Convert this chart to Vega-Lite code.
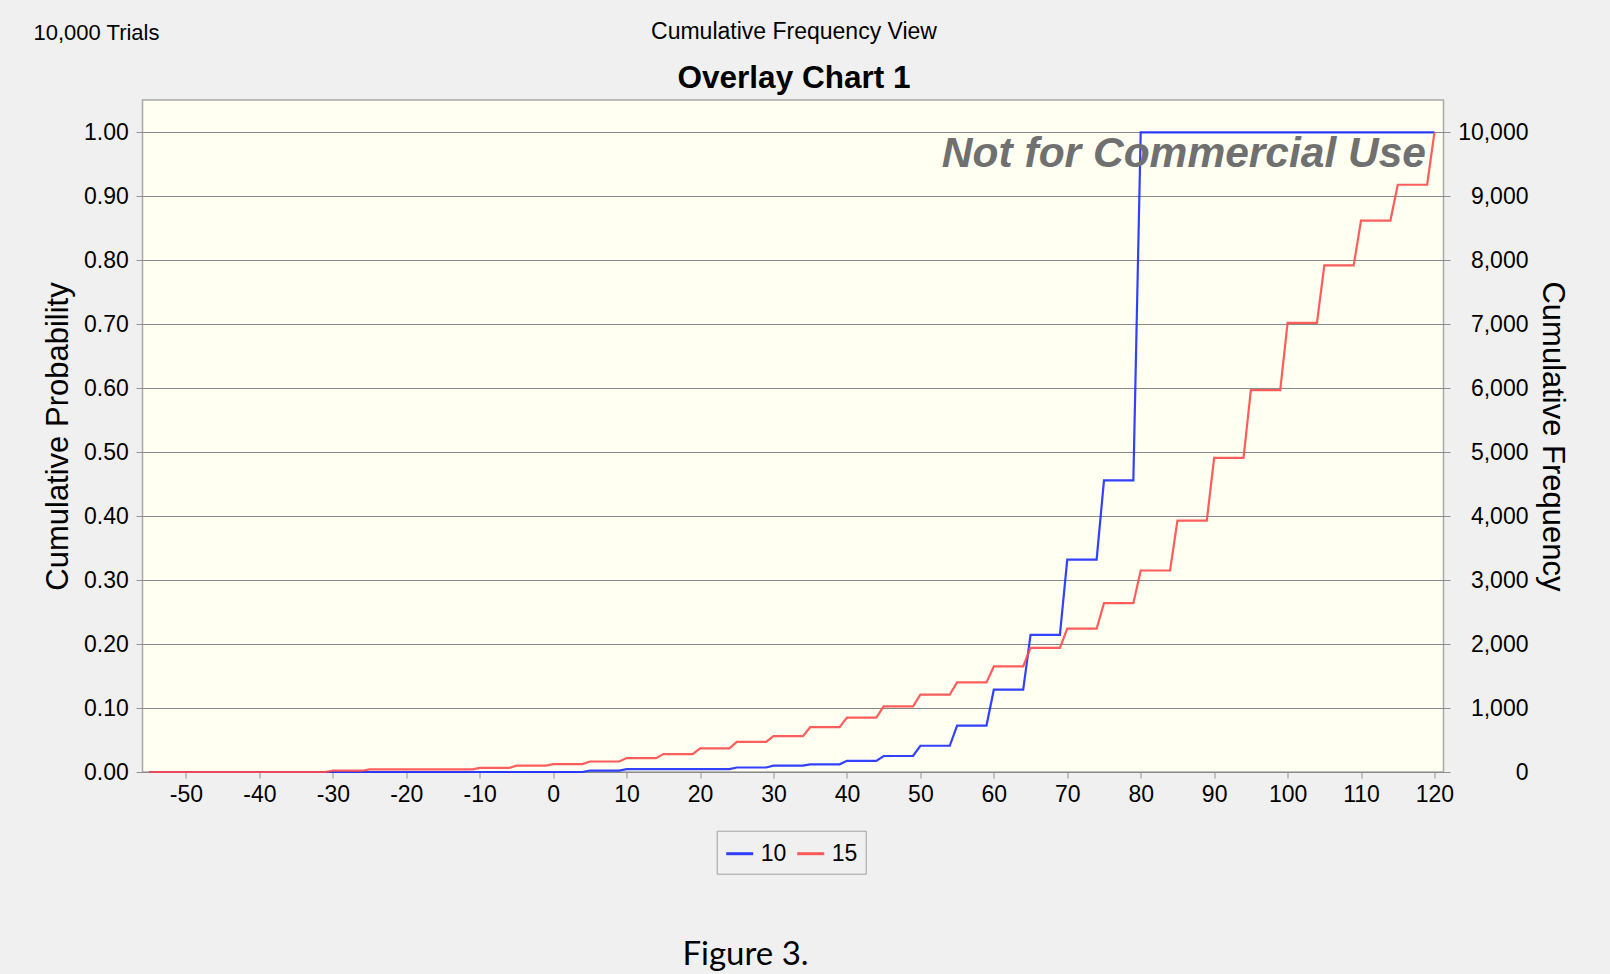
{
  "$schema": "https://vega.github.io/schema/vega-lite/v6.json",
  "width": 1301,
  "height": 672,
  "autosize": {"type": "none"},
  "padding": {"left": 142.5, "top": 100, "right": 166.5, "bottom": 202},
  "background": "#f0f0f0",
  "title": {
    "text": "Cumulative Frequency View",
    "subtitle": "Overlay Chart 1",
    "anchor": "middle",
    "frame": "group",
    "font": "Liberation Sans",
    "fontSize": 23,
    "fontWeight": "normal",
    "color": "#000000",
    "subtitleFont": "Liberation Sans",
    "subtitleFontSize": 31.5,
    "subtitleFontWeight": "bold",
    "subtitleColor": "#000000",
    "subtitlePadding": 19,
    "offset": -73,
    "dx": 1
  },
  "config": {
    "view": {"fill": "#fffff2", "stroke": "#a8a8a8", "strokeWidth": 1.5},
    "font": "Liberation Sans"
  },
  "resolve": {"scale": {"x": "independent", "y": "independent"}},
  "layer": [
    {
      "data": {
        "values": [
          {"series": "10", "x": -55, "p": 0},
          {"series": "10", "x": 4, "p": 0},
          {"series": "10", "x": 5, "p": 0.0023},
          {"series": "10", "x": 9, "p": 0.0023},
          {"series": "10", "x": 10, "p": 0.0044},
          {"series": "10", "x": 24, "p": 0.0044},
          {"series": "10", "x": 25, "p": 0.007},
          {"series": "10", "x": 29, "p": 0.007},
          {"series": "10", "x": 30, "p": 0.010},
          {"series": "10", "x": 34, "p": 0.010},
          {"series": "10", "x": 35, "p": 0.012},
          {"series": "10", "x": 39, "p": 0.012},
          {"series": "10", "x": 40, "p": 0.0175},
          {"series": "10", "x": 44, "p": 0.0175},
          {"series": "10", "x": 45, "p": 0.025},
          {"series": "10", "x": 49, "p": 0.025},
          {"series": "10", "x": 50, "p": 0.041},
          {"series": "10", "x": 54, "p": 0.041},
          {"series": "10", "x": 55, "p": 0.0726},
          {"series": "10", "x": 59, "p": 0.0726},
          {"series": "10", "x": 60, "p": 0.1287},
          {"series": "10", "x": 64, "p": 0.1287},
          {"series": "10", "x": 65, "p": 0.2144},
          {"series": "10", "x": 69, "p": 0.2144},
          {"series": "10", "x": 70, "p": 0.332},
          {"series": "10", "x": 74, "p": 0.332},
          {"series": "10", "x": 75, "p": 0.456},
          {"series": "10", "x": 79, "p": 0.456},
          {"series": "10", "x": 80, "p": 1.0},
          {"series": "10", "x": 120, "p": 1.0},
          {"series": "15", "x": -55, "p": 0},
          {"series": "15", "x": -31, "p": 0},
          {"series": "15", "x": -30, "p": 0.002},
          {"series": "15", "x": -26, "p": 0.002},
          {"series": "15", "x": -25, "p": 0.004},
          {"series": "15", "x": -11, "p": 0.004},
          {"series": "15", "x": -10, "p": 0.0063},
          {"series": "15", "x": -6, "p": 0.0063},
          {"series": "15", "x": -5, "p": 0.010},
          {"series": "15", "x": -1, "p": 0.010},
          {"series": "15", "x": 0, "p": 0.0123},
          {"series": "15", "x": 4, "p": 0.0123},
          {"series": "15", "x": 5, "p": 0.0164},
          {"series": "15", "x": 9, "p": 0.0164},
          {"series": "15", "x": 10, "p": 0.0217},
          {"series": "15", "x": 14, "p": 0.0217},
          {"series": "15", "x": 15, "p": 0.028},
          {"series": "15", "x": 19, "p": 0.028},
          {"series": "15", "x": 20, "p": 0.037},
          {"series": "15", "x": 24, "p": 0.037},
          {"series": "15", "x": 25, "p": 0.047},
          {"series": "15", "x": 29, "p": 0.047},
          {"series": "15", "x": 30, "p": 0.056},
          {"series": "15", "x": 34, "p": 0.056},
          {"series": "15", "x": 35, "p": 0.070},
          {"series": "15", "x": 39, "p": 0.070},
          {"series": "15", "x": 40, "p": 0.085},
          {"series": "15", "x": 44, "p": 0.085},
          {"series": "15", "x": 45, "p": 0.1026},
          {"series": "15", "x": 49, "p": 0.1026},
          {"series": "15", "x": 50, "p": 0.121},
          {"series": "15", "x": 54, "p": 0.121},
          {"series": "15", "x": 55, "p": 0.140},
          {"series": "15", "x": 59, "p": 0.140},
          {"series": "15", "x": 60, "p": 0.165},
          {"series": "15", "x": 64, "p": 0.165},
          {"series": "15", "x": 65, "p": 0.194},
          {"series": "15", "x": 69, "p": 0.194},
          {"series": "15", "x": 70, "p": 0.224},
          {"series": "15", "x": 74, "p": 0.224},
          {"series": "15", "x": 75, "p": 0.264},
          {"series": "15", "x": 79, "p": 0.264},
          {"series": "15", "x": 80, "p": 0.315},
          {"series": "15", "x": 84, "p": 0.315},
          {"series": "15", "x": 85, "p": 0.393},
          {"series": "15", "x": 89, "p": 0.393},
          {"series": "15", "x": 90, "p": 0.491},
          {"series": "15", "x": 94, "p": 0.491},
          {"series": "15", "x": 95, "p": 0.597},
          {"series": "15", "x": 99, "p": 0.597},
          {"series": "15", "x": 100, "p": 0.702},
          {"series": "15", "x": 104, "p": 0.702},
          {"series": "15", "x": 105, "p": 0.792},
          {"series": "15", "x": 109, "p": 0.792},
          {"series": "15", "x": 110, "p": 0.862},
          {"series": "15", "x": 114, "p": 0.862},
          {"series": "15", "x": 115, "p": 0.918},
          {"series": "15", "x": 119, "p": 0.918},
          {"series": "15", "x": 120, "p": 1.0}
        ]
      },
      "mark": {"type": "line", "strokeWidth": 2.2, "opacity": 0.9},
      "encoding": {
        "x": {
          "field": "x",
          "type": "quantitative",
          "scale": {"domain": [-55.92, 121.23], "nice": false, "zero": false},
          "axis": {
            "orient": "bottom",
            "values": [-50, -40, -30, -20, -10, 0, 10, 20, 30, 40, 50, 60, 70, 80, 90, 100, 110, 120],
            "labelExpr": "'' + datum.value",
            "grid": false,
            "domain": false,
            "tickSize": 6,
            "tickColor": "#909090",
            "labelFont": "Liberation Sans",
            "labelFontSize": 23,
            "labelColor": "#000000",
            "labelBaseline": "alphabetic",
            "labelPadding": 23.7,
            "labelFlush": false,
            "labelOverlap": false,
            "title": "Figure 3.",
            "titleFont": "Lato",
            "titleFontSize": 33,
            "titleFontWeight": "normal",
            "titleColor": "#000000",
            "titleX": 602.5,
            "titleY": 192,
            "titleAlign": "center",
            "titleBaseline": "alphabetic",
            "titleAngle": 0
          }
        },
        "y": {
          "field": "p",
          "type": "quantitative",
          "scale": {"domain": [0, 1.0505], "nice": false, "zero": false},
          "axis": {
            "orient": "left",
            "values": [0, 0.1, 0.2, 0.3, 0.4, 0.5, 0.6, 0.7, 0.8, 0.9, 1.0],
            "format": ".2f",
            "grid": true,
            "gridColor": "#8a8a8a",
            "gridWidth": 1,
            "domain": false,
            "tickSize": 6.5,
            "tickColor": "#909090",
            "labelFont": "Liberation Sans",
            "labelFontSize": 23,
            "labelColor": "#000000",
            "labelPadding": 7.7,
            "labelFlush": false,
            "labelOverlap": false,
            "title": "Cumulative Probability",
            "titleFont": "Liberation Sans",
            "titleFontSize": 31,
            "titleFontWeight": "normal",
            "titleColor": "#000000",
            "titleX": -75,
            "titleY": 336,
            "titleAngle": 270,
            "titleAlign": "center",
            "titleBaseline": "alphabetic"
          }
        },
        "color": {
          "field": "series",
          "type": "nominal",
          "scale": {"domain": ["10", "15"], "range": ["#1c2cff", "#ff4b4b"]},
          "legend": {
            "orient": "none",
            "legendX": 574.2,
            "legendY": 730.7,
            "direction": "horizontal",
            "title": null,
            "symbolType": "stroke",
            "symbolSize": 729,
            "symbolStrokeWidth": 3,
            "labelFont": "Liberation Sans",
            "labelFontSize": 23,
            "labelColor": "#000000",
            "labelOffset": 6,
            "columnPadding": 4,
            "padding": 8,
            "strokeColor": "#a0a0a0",
            "fillColor": "#f0f0f0",
            "cornerRadius": 0
          }
        }
      }
    },
    {
      "data": {"values": [{"note": "Not for Commercial Use"}]},
      "mark": {
        "type": "text",
        "align": "right",
        "baseline": "alphabetic",
        "font": "Liberation Sans",
        "fontSize": 42.5,
        "fontWeight": "bold",
        "fontStyle": "italic",
        "color": "#707070"
      },
      "encoding": {
        "text": {"field": "note"},
        "x": {
          "datum": 118.85,
          "type": "quantitative",
          "scale": {"domain": [-55.92, 121.23], "nice": false, "zero": false},
          "axis": {
            "orient": "top",
            "labels": false,
            "ticks": false,
            "domain": false,
            "grid": false,
            "title": "10,000 Trials",
            "titleFont": "Liberation Sans",
            "titleFontSize": 22,
            "titleFontWeight": "normal",
            "titleColor": "#000000",
            "titleX": -109.5,
            "titleY": -61,
            "titleAlign": "left",
            "titleBaseline": "alphabetic",
            "titleAngle": 0
          }
        },
        "y": {
          "datum": 0.9458,
          "type": "quantitative",
          "scale": {"domain": [0, 1.0505], "nice": false, "zero": false},
          "axis": {
            "orient": "right",
            "values": [0, 0.1, 0.2, 0.3, 0.4, 0.5, 0.6, 0.7, 0.8, 0.9, 1.0],
            "labelExpr": "format(datum.value * 10000, ',.0f')",
            "grid": false,
            "domain": false,
            "tickSize": 6.5,
            "tickColor": "#909090",
            "labelFont": "Liberation Sans",
            "labelFontSize": 23,
            "labelColor": "#000000",
            "labelAlign": "right",
            "labelPadding": 78,
            "labelFlush": false,
            "labelOverlap": false,
            "title": "Cumulative Frequency",
            "titleFont": "Liberation Sans",
            "titleFontSize": 31,
            "titleFontWeight": "normal",
            "titleColor": "#000000",
            "titleX": 99.1,
            "titleY": 336,
            "titleAngle": 90,
            "titleAlign": "center",
            "titleBaseline": "alphabetic"
          }
        }
      }
    }
  ]
}
